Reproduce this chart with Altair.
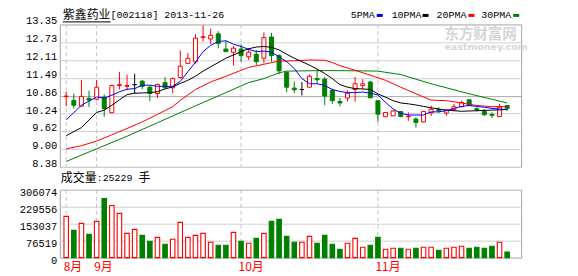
import altair as alt
import pandas as pd

# ---------------- data ----------------
opens = [10.83, 10.70, 10.50, 10.77, 10.74, 10.81, 10.27, 11.22, 11.19, 11.25,
         11.37, 11.16, 10.94, 11.32, 11.14, 11.50, 11.99, 12.05, 12.89, 12.84,
         13.02, 12.49, 12.38, 12.49, 12.22, 12.31, 12.17, 12.91, 12.26, 11.67,
         11.13, 11.08, 11.16, 11.46, 11.44, 11.05, 10.66, 10.78, 11.08, 11.22,
         11.34, 10.69, 10.13, 10.16, 10.31, 10.13, 10.05, 9.95, 10.27, 10.38,
         10.26, 10.38, 10.48, 10.72, 10.41, 10.31, 10.21, 10.14, 10.52]
highs = [11.00, 10.94, 11.41, 11.04, 11.41, 10.91, 11.25, 11.69, 11.60, 11.63,
         11.41, 11.22, 11.28, 11.51, 11.50, 12.44, 12.35, 13.01, 13.32, 13.20,
         13.11, 12.78, 12.60, 12.66, 12.52, 12.46, 13.07, 13.05, 12.31, 11.72,
         11.36, 11.34, 11.60, 11.78, 11.52, 11.11, 10.78, 11.05, 11.52, 11.44,
         11.38, 10.69, 10.28, 10.36, 10.33, 10.28, 10.11, 10.34, 10.52, 10.46,
         10.40, 10.58, 10.69, 10.72, 10.46, 10.40, 10.28, 10.58, 10.52]
lows = [10.50, 10.41, 10.48, 10.47, 10.70, 10.13, 10.27, 11.08, 11.05, 10.94,
        11.09, 10.67, 10.78, 11.11, 10.95, 11.46, 11.99, 11.98, 12.75, 12.66,
        12.52, 12.40, 11.91, 12.05, 12.11, 11.93, 11.99, 12.05, 11.61, 10.99,
        10.96, 10.87, 11.16, 11.28, 10.54, 10.58, 10.49, 10.66, 10.66, 11.08,
        10.79, 9.95, 10.13, 10.16, 10.11, 9.99, 9.75, 9.93, 10.16, 10.26,
        10.16, 10.32, 10.46, 10.52, 10.31, 10.16, 10.08, 10.11, 10.34]
closes = [10.85, 10.53, 10.84, 10.71, 11.16, 10.41, 11.22, 11.25, 11.22, 11.25,
          11.19, 10.94, 11.26, 11.14, 11.46, 11.89, 12.17, 12.87, 12.92, 12.97,
          12.69, 12.40, 12.52, 12.26, 12.38, 12.05, 12.89, 12.26, 11.73, 11.16,
          11.07, 11.08, 11.54, 11.42, 10.85, 10.69, 10.61, 10.95, 11.28, 11.28,
          10.79, 10.22, 10.28, 10.33, 10.14, 10.15, 9.93, 10.31, 10.39, 10.34,
          10.36, 10.48, 10.63, 10.52, 10.38, 10.20, 10.18, 10.46, 10.42]
volumes = [186000, 123000, 154500, 105000, 163500, 267000, 235500, 199500, 109500, 127500,
           100500, 73500, 91500, 60000, 82500, 159000, 91500, 100500, 109500, 69000,
           55500, 55500, 114000, 73500, 64500, 87000, 109500, 163500, 172500, 96000,
           69000, 69000, 96000, 64500, 100500, 60000, 37500, 64500, 87000, 46500,
           55500, 91500, 37500, 42000, 42000, 37500, 42000, 46500, 46500, 33000,
           42000, 46500, 51000, 42000, 46500, 42000, 51000, 69000, 25229]

ma5_idx = [1, 3, 5, 6, 7, 8, 9, 10, 11, 12, 13, 14, 15, 16, 17, 18, 19, 20, 21, 22,
           23, 24, 25, 26, 27, 28, 29, 30, 31, 32, 33, 34, 35, 36, 37, 38, 39, 40, 41, 42,
           43, 44, 45, 46, 47, 48, 49, 50, 51, 52, 53, 54, 55, 56, 57, 58, 59]
ma5_val = [10.02, 10.53, 10.82, 10.78, 10.88, 11.00, 11.09, 11.11, 11.23, 11.23, 11.19, 11.19, 11.19, 11.36, 11.70, 12.03, 12.40, 12.62, 12.75, 12.78,
           12.66, 12.58, 12.48, 12.40, 12.42, 12.38, 12.22, 12.05, 11.81, 11.46, 11.28, 11.28, 11.22, 11.08, 11.01, 10.97, 10.97, 10.99, 10.95, 10.89,
           10.63, 10.40, 10.25, 10.19, 10.19, 10.19, 10.30, 10.30, 10.34, 10.42, 10.49, 10.52, 10.49, 10.46, 10.42, 10.40, 10.38]
ma10_idx = [1, 3, 5, 6, 7, 8, 9, 10, 11, 12, 13, 14, 15, 16, 17, 18, 19, 20, 22, 24,
            25, 26, 27, 28, 29, 30, 31, 32, 33, 34, 35, 36, 37, 38, 39, 40, 41, 42, 43, 44,
            45, 46, 47, 48, 49, 51, 53, 55, 57, 59]
ma10_val = [9.47, 9.75, 10.28, 10.36, 10.53, 10.72, 10.90, 10.95, 10.96, 10.97, 11.00, 11.10, 11.17, 11.29, 11.40, 11.54, 11.72, 11.87, 12.17, 12.40,
            12.50, 12.56, 12.58, 12.55, 12.46, 12.31, 12.17, 12.05, 11.93, 11.79, 11.64, 11.46, 11.25, 11.16, 11.11, 11.10, 11.08, 10.93, 10.81, 10.69,
            10.61, 10.58, 10.54, 10.49, 10.44, 10.36, 10.32, 10.34, 10.36, 10.38]
ma20_idx = [1, 3, 5, 7, 9, 11, 13, 15, 16, 18, 20, 22, 24, 25, 27, 29, 31, 33, 35, 36,
            37, 39, 41, 43, 45, 47, 49, 51, 53, 55, 57, 59]
ma20_val = [9.01, 9.12, 9.28, 9.50, 9.72, 9.95, 10.21, 10.48, 10.70, 11.08, 11.34, 11.54, 11.75, 11.85, 11.96, 12.07, 12.08, 12.11, 12.10, 12.02,
            11.91, 11.75, 11.58, 11.40, 11.16, 10.93, 10.71, 10.69, 10.61, 10.52, 10.48, 10.49]
ma30_idx = [1, 5, 9, 13, 18, 22, 25, 27, 29, 30, 35, 40, 42, 45, 49, 54, 59]
ma30_val = [8.57, 9.01, 9.45, 9.92, 10.51, 10.97, 11.32, 11.46, 11.66, 11.72, 11.74, 11.73, 11.72, 11.60, 11.28, 10.93, 10.61]

price_ticks = [8.38, 9.00, 9.62, 10.24, 10.86, 11.49, 12.11, 12.73, 13.35]
vol_ticks = [0, 76519, 153037, 229556, 306074]
month_idx = [1, 5, 24, 42]
month_labels = ['8月', '9月', '10月', '11月']
ma_names = ['5PMA', '10PMA', '20PMA', '30PMA']
title_name = '紫鑫药业'
title_code = '[002118] 2013-11-26'
vol_title = '成交量'
vol_value = ':25229'
vol_unit = '手'
wm_cn = '东方财富网'
wm_en = 'eastmoney.com'

# ---------------- tables ----------------
n = len(closes)
df = pd.DataFrame({'idx': list(range(1, n + 1)), 'open': opens, 'high': highs,
                   'low': lows, 'close': closes, 'vol': volumes})
ma_df = pd.concat([
    pd.DataFrame({'ma': 'MA30', 'idx': ma30_idx, 'val': ma30_val}),
    pd.DataFrame({'ma': 'MA20', 'idx': ma20_idx, 'val': ma20_val}),
    pd.DataFrame({'ma': 'MA10', 'idx': ma10_idx, 'val': ma10_val}),
    pd.DataFrame({'ma': 'MA5', 'idx': ma5_idx, 'val': ma5_val}),
])
mdf = pd.DataFrame({'m': month_idx, 'lab': month_labels})

RED, GREEN, BLACK, BLUE = '#ff0000', '#008000', '#000000', '#0000ff'
GRID = '#d0d0d0'
MONO = 'Liberation Mono'
CJK = 'Noto Sans CJK SC'

xs = alt.Scale(domain=[0.81, 60.19], nice=False, zero=False)
ps = alt.Scale(domain=[8.38, 13.35], nice=False, zero=False)
vs = alt.Scale(domain=[0, 306074], nice=False, zero=False)

paxis = alt.Axis(values=price_ticks, format='.2f', title=None, domain=False, ticks=False,
                 tickSize=0, labelPadding=3, labelFont=MONO, labelFontSize=10.5,
                 labelColor='#000', labelBaseline='middle', labelOffset=-3.5,
                 labelOverlap=False, labelFlush=False, labelBound=False, grid=True,
                 gridColor={'condition': {'test': 'datum.value == 10.86', 'value': '#a8a8a8'},
                            'value': GRID},
                 gridWidth=1)
vaxis = alt.Axis(values=vol_ticks, format='d', title=None, domain=False, ticks=False,
                 tickSize=0, labelPadding=3, labelFont=MONO, labelFontSize=10.5,
                 labelColor='#000', labelBaseline='middle', labelOffset=3,
                 labelOverlap=False, labelFlush=False, labelBound=False, grid=True,
                 gridColor=GRID, gridWidth=1)

X = alt.X('idx:Q', scale=xs, axis=None)
one = pd.DataFrame({'a': [0]})


def txt(s, x, y, font=MONO, size=10, color='#000', weight='normal', align='left'):
    return alt.Chart(pd.DataFrame({'t': [s]})).mark_text(
        font=font, fontSize=size, color=color, fontWeight=weight, align=align,
        baseline='middle').encode(x=alt.value(x), y=alt.value(y), text='t:N')


def swatch(x, y, w, h, color):
    return alt.Chart(one).mark_rect(color=color).encode(
        x=alt.value(x), x2=alt.value(x + w), y=alt.value(y), y2=alt.value(y + h))


colored = alt.Chart(df).transform_calculate(
    col=f"datum.close > datum.open ? '{RED}' : (datum.close < datum.open ? '{GREEN}' : '{BLACK}')",
    fillc=f"datum.close > datum.open ? 'white' : (datum.close < datum.open ? '{GREEN}' : '{BLACK}')",
    vcol=f"datum.close >= datum.open ? '{RED}' : '{GREEN}'",
    vfill=f"datum.close >= datum.open ? 'white' : '{GREEN}'",
)

# ---------------- price panel ----------------
frame_bounds = alt.Chart(one).mark_rect(opacity=0).encode(
    x=alt.value(-59), x2=alt.value(519), y=alt.value(-23), y2=alt.value(253))

p_month = alt.Chart(mdf).mark_rule(color='#c4c4c4', strokeDash=[4, 3], strokeWidth=1).encode(
    x=alt.X('m:Q', scale=xs, axis=None))

wicks = colored.mark_rule(strokeWidth=1).encode(
    x=X, y=alt.Y('low:Q', scale=ps, axis=paxis), y2='high:Q',
    color=alt.Color('col:N', scale=None))

bodies = colored.mark_bar(size=4, strokeWidth=1, orient='vertical').encode(
    x=X, y=alt.Y('open:Q', scale=ps, axis=paxis), y2='close:Q',
    fill=alt.Fill('fillc:N', scale=None), stroke=alt.Stroke('col:N', scale=None))

ma_lines = alt.Chart(ma_df).mark_line(strokeWidth=1).encode(
    x=X, y=alt.Y('val:Q', scale=ps, axis=paxis),
    color=alt.Color('ma:N', scale=alt.Scale(domain=['MA5', 'MA10', 'MA20', 'MA30'],
                                            range=[BLUE, BLACK, RED, GREEN]), legend=None),
    order=alt.Order('idx:Q'))

texts = [
    txt(wm_cn, 386, 10.5, font=CJK, size=14.5, color='#d6d6d6', weight='bold'),
    txt(wm_en, 386, 23, font='DejaVu Sans', size=9.5, color='#d6d6d6', weight='bold'),
    txt(title_name, 3, -9, font=CJK, size=12),
    txt(title_code, 51, -9, size=10),
    alt.Chart(one).mark_rule(color='#000').encode(x=alt.value(3), x2=alt.value(51), y=alt.value(-2.5)),
    txt(ma_names[0], 292, -9), swatch(318, -10.5, 6, 3, BLUE),
    txt(ma_names[1], 333, -9), swatch(364, -10.5, 6, 3, BLACK),
    txt(ma_names[2], 378, -9), swatch(410, -10.5, 6, 3, RED),
    txt(ma_names[3], 423, -9), swatch(455, -10.5, 6, 3, GREEN),
]

price = alt.layer(p_month, wicks, bodies, ma_lines, *texts, frame_bounds).properties(
    width=463, height=143)

# ---------------- volume panel ----------------
v_month = alt.Chart(mdf).mark_rule(color='#c4c4c4', strokeDash=[4, 3], strokeWidth=1).encode(
    x=alt.X('m:Q', scale=xs, axis=None))

vbars = colored.mark_bar(size=4.5, strokeWidth=1.1, orient='vertical').encode(
    x=X, y=alt.Y('vol:Q', scale=vs, axis=vaxis), y2=alt.datum(0),
    fill=alt.Fill('vfill:N', scale=None), stroke=alt.Stroke('vcol:N', scale=None))

mlabels = alt.Chart(mdf).mark_text(font=CJK, fontSize=12, color=RED, align='left',
                                   baseline='middle', dx=-2.5).encode(
    x=alt.X('m:Q', scale=xs, axis=None), y=alt.value(77.7), text='lab:N')

vtexts = [
    txt(vol_title, 1, -12, font=CJK, size=12),
    txt(vol_value, 37, -12, size=10),
    txt(vol_unit, 79, -12, font=CJK, size=12),
]

volume = alt.layer(v_month, vbars, mlabels, *vtexts).properties(width=463, height=68)

chart = alt.vconcat(price, volume, spacing=23, bounds='flush').properties(
    padding=0, background='white', autosize=alt.AutoSizeParams(type='pad')
).configure_view(stroke='#a0a0a0', strokeWidth=1)

chart.save('out.html', embed_options={'renderer': 'svg', 'actions': False})
